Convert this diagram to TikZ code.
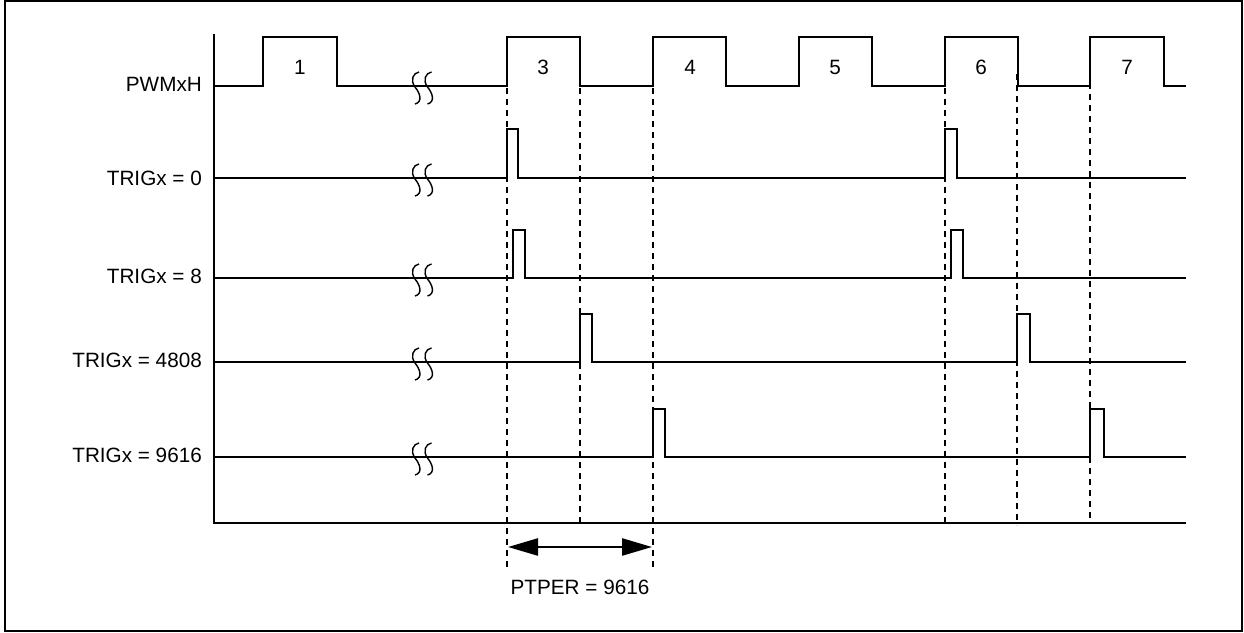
\documentclass[tikz,border=0pt]{standalone}
\usepackage{fontspec}
\setmainfont{Liberation Sans}
\usetikzlibrary{arrows.meta}
\tikzset{
  sig/.style={line width=2.5pt, line join=miter},
  guide/.style={line width=2.4pt, dash pattern=on 6pt off 5pt},
  lab/.style={anchor=east, inner sep=0pt, font=\fontsize{20.7}{24}\selectfont},
  num/.style={inner sep=0pt, font=\fontsize{20.7}{24}\selectfont},
  brk/.style={line width=1.4pt},
  frame/.style={line width=2.2pt},
  span/.style={line width=2.5pt, {Triangle[length=30pt,width=17pt]}-{Triangle[length=30pt,width=17pt]}}
}
\newcommand{\brkS}[2]{%
  \draw[brk] (#1+7,#2-14) .. controls (#1+1,#2-13) and (#1-2,#2-6) .. (#1+3,#2+1) .. controls (#1+8,#2+7) and (#1+11,#2+16) .. (#1+3,#2+18);
}
\newcommand{\brkmark}[1]{\brkS{412}{#1}\brkS{424.5}{#1}}
\begin{document}
\begin{tikzpicture}[x=1pt,y=-1pt]
\useasboundingbox (0,0) rectangle (1244,632);
\draw[frame] (5,1) rectangle (1242,631);

% axes
\coordinate (axtop) at (214,34);
\coordinate (axcorner) at (214,523);
\coordinate (axend) at (1186,523);
\draw[sig] (axtop) -- (axcorner) -- (axend);

% labels
\node[lab] (lpwm) at (202,84) {PWMxH};
\node[lab] (ltr0) at (202,178) {TRIGx = 0};
\node[lab] (ltr8) at (202,276) {TRIGx = 8};
\node[lab] (ltr4808) at (202,360) {TRIGx = 4808};
\node[lab] (ltr9616) at (202,455) {TRIGx = 9616};

% PWMxH
\draw[sig] (214,86) -- (263,86) -- (263,37) -- (337,37) -- (337,86)
  -- (507,86) -- (507,37) -- (580,37) -- (580,86)
  -- (653,86) -- (653,37) -- (726,37) -- (726,86)
  -- (799,86) -- (799,37) -- (872,37) -- (872,86)
  -- (945,86) -- (945,37) -- (1018,37) -- (1018,86)
  -- (1090,86) -- (1090,37) -- (1164,37) -- (1164,86) -- (1186,86);
\node[num] (p1) at (300,67) {1};
\node[num] (p3) at (543,67) {3};
\node[num] (p4) at (690,67) {4};
\node[num] (p5) at (835,67) {5};
\node[num] (p6) at (981,67) {6};
\node[num] (p7) at (1127,67) {7};

% TRIGx = 0
\draw[sig] (214,178) -- (507,178) -- (507,129) -- (518,129) -- (518,178)
  -- (945,178) -- (945,129) -- (957,129) -- (957,178) -- (1186,178);
% TRIGx = 8
\draw[sig] (214,278) -- (513,278) -- (513,230) -- (525,230) -- (525,278)
  -- (951,278) -- (951,230) -- (963,230) -- (963,278) -- (1186,278);
% TRIGx = 4808
\draw[sig] (214,362) -- (580,362) -- (580,314) -- (592,314) -- (592,362)
  -- (1017,362) -- (1017,314) -- (1030,314) -- (1030,362) -- (1186,362);
% TRIGx = 9616
\draw[sig] (214,457) -- (653,457) -- (653,409) -- (665,409) -- (665,457)
  -- (1090,457) -- (1090,409) -- (1104,409) -- (1104,457) -- (1186,457);

% break marks
\brkmark{86}
\brkmark{178}
\brkmark{278}
\brkmark{362}
\brkmark{457}

% dashed guides
\coordinate (g1a) at (507,88); \coordinate (g1b) at (507,568);
\coordinate (g2a) at (580,88); \coordinate (g2b) at (580,523);
\coordinate (g3a) at (653,88); \coordinate (g3b) at (653,568);
\coordinate (g4a) at (945,88); \coordinate (g4b) at (945,523);
\coordinate (g5a) at (1017,74); \coordinate (g5b) at (1017,525);
\coordinate (g6a) at (1090,72); \coordinate (g6b) at (1090,523);
\foreach \i in {1,...,6} { \draw[guide] (g\i a) -- (g\i b); }

% PTPER span
\coordinate (sa) at (508,547);
\coordinate (sb) at (652,547);
\draw[span] (sa) -- (sb);
\node[num] (ptper) at (580,587) {PTPER = 9616};
\end{tikzpicture}
\end{document}
